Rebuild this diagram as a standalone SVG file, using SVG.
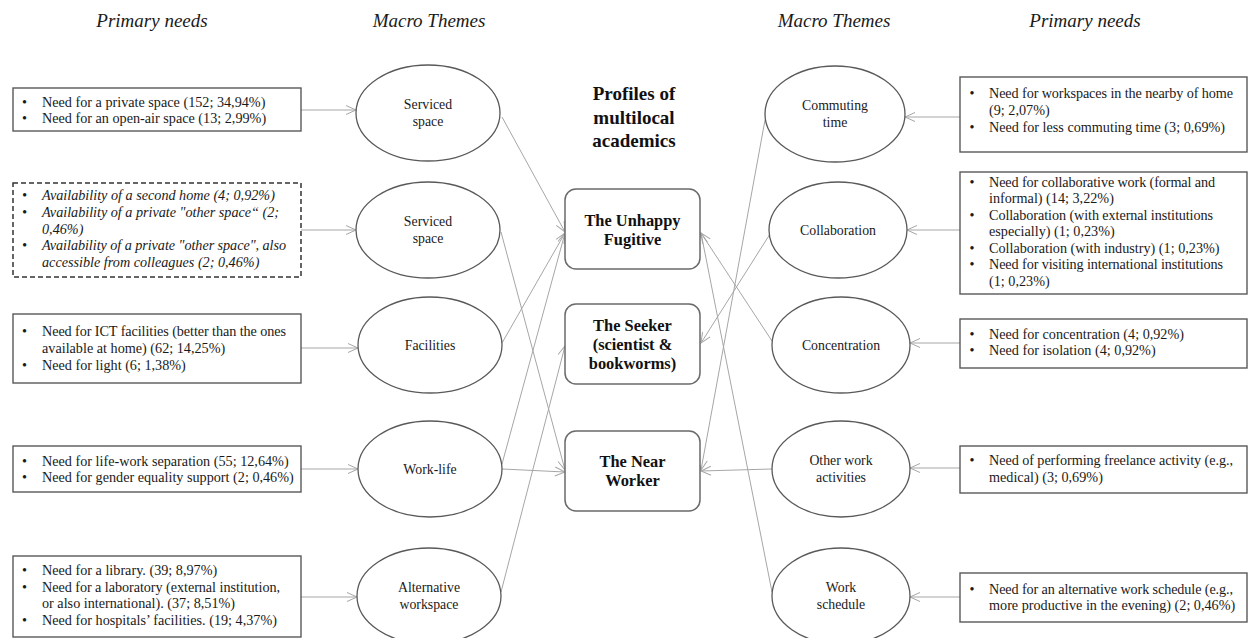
<svg xmlns="http://www.w3.org/2000/svg" width="1248" height="638" viewBox="0 0 1248 638">
<defs>
<marker id="arr" markerUnits="userSpaceOnUse" markerWidth="14" markerHeight="12" viewBox="-1 -6 13 12" refX="10" refY="0" orient="auto">
<path d="M0,-4.5 L10,0 L0,4.5" fill="none" stroke="#a6a6a6" stroke-width="1"/>
</marker>
<style>
.hdr{font-family:"Liberation Serif","Times New Roman",serif;font-style:italic;font-size:19px;fill:#1a1a1a;text-anchor:middle}
.tt{font-family:"Liberation Serif","Times New Roman",serif;font-weight:bold;font-size:19px;fill:#111;text-anchor:middle}
.box{fill:#fff;stroke:#595959;stroke-width:1.4}
.dbox{fill:#fff;stroke:#333;stroke-width:1.5;stroke-dasharray:5,3}
.ell{fill:#fff;stroke:#595959;stroke-width:1.3}
.prof{fill:#fff;stroke:#6a6a6a;stroke-width:1.5}
.t{font-family:"Liberation Serif","Times New Roman",serif;font-size:14.2px;fill:#1a1a1a}
.ti{font-family:"Liberation Serif","Times New Roman",serif;font-size:14.2px;font-style:italic;fill:#1a1a1a}
.et{font-family:"Liberation Serif","Times New Roman",serif;font-size:13.8px;fill:#1a1a1a;text-anchor:middle}
.pt{font-family:"Liberation Serif","Times New Roman",serif;font-size:16.4px;font-weight:bold;fill:#111;text-anchor:middle}
.c{fill:none;stroke:#a6a6a6;stroke-width:1;marker-end:url(#arr)}
</style>
</defs>
<rect width="1248" height="638" fill="#fff"/>

<g id="headers">
<text class="hdr" x="152" y="27">Primary needs</text>
<text class="hdr" x="429" y="27">Macro Themes</text>
<text class="hdr" x="834" y="27">Macro Themes</text>
<text class="hdr" x="1085" y="27">Primary needs</text>
</g>

<g id="title">
<text class="tt" x="634" y="99.5">Profiles of</text>
<text class="tt" x="634" y="123.5">multilocal</text>
<text class="tt" x="634" y="146.5">academics</text>
</g>

<g id="connectors">
<path class="c" d="M301,110 L356,110"/>
<path class="c" d="M301,230 L356,230"/>
<path class="c" d="M301,348 L358,348"/>
<path class="c" d="M301,469 L358,469"/>
<path class="c" d="M301,597 L357,597"/>
<path class="c" d="M960,117 L905,117"/>
<path class="c" d="M960,230 L907,230"/>
<path class="c" d="M960,343 L910,343"/>
<path class="c" d="M960,468 L910,468"/>
<path class="c" d="M960,597 L910,597"/>
<path class="c" d="M502,117 L565,232"/>
<path class="c" d="M501,232 L565,470"/>
<path class="c" d="M502,343 L565,233"/>
<path class="c" d="M502,464 L565,233"/>
<path class="c" d="M502,469 L565,472"/>
<path class="c" d="M501,592 L565,346"/>
<path class="c" d="M765,120 L701,470"/>
<path class="c" d="M770,234 L701,343"/>
<path class="c" d="M772,341 L701,233"/>
<path class="c" d="M772,469 L701,471"/>
<path class="c" d="M772,592 L701,233"/>
</g>

<g id="need-private-space">
<rect class="box" x="13" y="88" width="288" height="43"/>
<text class="t" x="22" y="106.5">•</text><text class="t" x="42" y="106.5">Need for a private space (152; 34,94%)</text>
<text class="t" x="22" y="123">•</text><text class="t" x="42" y="123">Need for an open-air space (13; 2,99%)</text>
</g>

<g id="need-availability">
<rect class="dbox" x="13" y="183" width="288" height="94"/>
<text class="ti" x="22" y="200">•</text><text class="ti" x="42" y="200">Availability of a second home (4;  0,92%)</text>
<text class="ti" x="22" y="217">•</text><text class="ti" x="42" y="217" textLength="237" lengthAdjust="spacing">Availability of a private "other space“ (2;</text>
<text class="ti" x="42" y="233.5">0,46%)</text>
<text class="ti" x="22" y="250">•</text><text class="ti" x="42" y="250" textLength="244" lengthAdjust="spacing">Availability of a private "other space", also</text>
<text class="ti" x="42" y="267">accessible from colleagues (2;  0,46%)</text>
</g>

<g id="need-ict">
<rect class="box" x="13" y="314" width="288" height="69"/>
<text class="t" x="22" y="336">•</text><text class="t" x="42" y="336" textLength="244" lengthAdjust="spacing">Need for ICT facilities (better than the ones</text>
<text class="t" x="42" y="353">available at home) (62; 14,25%)</text>
<text class="t" x="22" y="370">•</text><text class="t" x="42" y="370">Need for light (6; 1,38%)</text>
</g>

<g id="need-life-work">
<rect class="box" x="13" y="446" width="288" height="46"/>
<text class="t" x="22" y="466">•</text><text class="t" x="42" y="466">Need for life-work separation (55; 12,64%)</text>
<text class="t" x="22" y="482">•</text><text class="t" x="42" y="482">Need for gender equality support (2; 0,46%)</text>
</g>

<g id="need-library">
<rect class="box" x="13" y="556" width="288" height="81"/>
<text class="t" x="22" y="575">•</text><text class="t" x="42" y="575">Need for a library. (39; 8,97%)</text>
<text class="t" x="22" y="591.5">•</text><text class="t" x="42" y="591.5" textLength="238" lengthAdjust="spacing">Need for a laboratory (external institution,</text>
<text class="t" x="42" y="608">or also international). (37; 8,51%)</text>
<text class="t" x="22" y="624.5">•</text><text class="t" x="42" y="624.5">Need for hospitals’ facilities. (19; 4,37%)</text>
</g>

<g id="theme-serviced-1">
<ellipse class="ell" cx="428" cy="113" rx="72" ry="48"/>
<text class="et" x="428" y="109.3">Serviced</text>
<text class="et" x="428" y="125.8">space</text>
</g>
<g id="theme-serviced-2">
<ellipse class="ell" cx="428" cy="230" rx="72" ry="48"/>
<text class="et" x="428" y="226.3">Serviced</text>
<text class="et" x="428" y="242.8">space</text>
</g>
<g id="theme-facilities">
<ellipse class="ell" cx="430" cy="345" rx="72" ry="48"/>
<text class="et" x="430" y="349.5">Facilities</text>
</g>
<g id="theme-work-life">
<ellipse class="ell" cx="430" cy="469" rx="72" ry="48"/>
<text class="et" x="430" y="473.5">Work-life</text>
</g>
<g id="theme-alt-workspace">
<ellipse class="ell" cx="429" cy="596" rx="72" ry="48"/>
<text class="et" x="429" y="592.3">Alternative</text>
<text class="et" x="429" y="608.8">workspace</text>
</g>

<g id="profile-unhappy-fugitive">
<rect class="prof" x="565" y="189" width="135" height="80" rx="11"/>
<text class="pt" x="632.5" y="225.5">The Unhappy</text>
<text class="pt" x="632.5" y="244.5">Fugitive</text>
</g>
<g id="profile-seeker">
<rect class="prof" x="565" y="304" width="135" height="80" rx="11"/>
<text class="pt" x="632.5" y="330.5">The Seeker</text>
<text class="pt" x="632.5" y="349.5">(scientist &amp;</text>
<text class="pt" x="632.5" y="368.5">bookworms)</text>
</g>
<g id="profile-near-worker">
<rect class="prof" x="565" y="431" width="135" height="80" rx="11"/>
<text class="pt" x="632.5" y="467">The Near</text>
<text class="pt" x="632.5" y="486">Worker</text>
</g>

<g id="theme-commuting">
<ellipse class="ell" cx="835" cy="114" rx="70" ry="48"/>
<text class="et" x="835" y="110.3">Commuting</text>
<text class="et" x="835" y="126.8">time</text>
</g>
<g id="theme-collaboration">
<ellipse class="ell" cx="838" cy="230" rx="69" ry="48"/>
<text class="et" x="838" y="234.5">Collaboration</text>
</g>
<g id="theme-concentration">
<ellipse class="ell" cx="841" cy="345" rx="69" ry="48"/>
<text class="et" x="841" y="349.5">Concentration</text>
</g>
<g id="theme-other-work">
<ellipse class="ell" cx="841" cy="469" rx="69" ry="48"/>
<text class="et" x="841" y="465.3">Other work</text>
<text class="et" x="841" y="481.8">activities</text>
</g>
<g id="theme-work-schedule">
<ellipse class="ell" cx="841" cy="596" rx="69" ry="48"/>
<text class="et" x="841" y="592.3">Work</text>
<text class="et" x="841" y="608.8">schedule</text>
</g>

<g id="need-workspaces-nearby">
<rect class="box" x="960" y="77" width="287" height="75"/>
<text class="t" x="969.5" y="98">•</text><text class="t" x="989" y="98" textLength="244" lengthAdjust="spacing">Need for workspaces in the nearby of home</text>
<text class="t" x="989" y="115">(9; 2,07%)</text>
<text class="t" x="969.5" y="132">•</text><text class="t" x="989" y="132">Need for less commuting time (3; 0,69%)</text>
</g>

<g id="need-collaborative">
<rect class="box" x="960" y="172" width="287" height="122"/>
<text class="t" x="969.5" y="186.5">•</text><text class="t" x="989" y="186.5" textLength="226" lengthAdjust="spacing">Need for collaborative work (formal and</text>
<text class="t" x="989" y="203">informal) (14; 3,22%)</text>
<text class="t" x="969.5" y="219.5">•</text><text class="t" x="989" y="219.5" textLength="224" lengthAdjust="spacing">Collaboration (with external institutions</text>
<text class="t" x="989" y="236">especially)  (1; 0,23%)</text>
<text class="t" x="969.5" y="252.5">•</text><text class="t" x="989" y="252.5">Collaboration (with industry) (1; 0,23%)</text>
<text class="t" x="969.5" y="269">•</text><text class="t" x="989" y="269" textLength="234" lengthAdjust="spacing">Need for visiting international institutions</text>
<text class="t" x="989" y="285.5">(1; 0,23%)</text>
</g>

<g id="need-concentration">
<rect class="box" x="960" y="319" width="287" height="49"/>
<text class="t" x="969.5" y="339">•</text><text class="t" x="989" y="339">Need for concentration (4; 0,92%)</text>
<text class="t" x="969.5" y="355">•</text><text class="t" x="989" y="355">Need for isolation (4; 0,92%)</text>
</g>

<g id="need-freelance">
<rect class="box" x="960" y="446" width="287" height="47"/>
<text class="t" x="969.5" y="465">•</text><text class="t" x="989" y="465" textLength="244" lengthAdjust="spacing">Need of performing freelance activity (e.g.,</text>
<text class="t" x="989" y="482">medical) (3; 0,69%)</text>
</g>

<g id="need-alt-schedule">
<rect class="box" x="960" y="573" width="287" height="49"/>
<text class="t" x="969.5" y="594">•</text><text class="t" x="989" y="594" textLength="244" lengthAdjust="spacing">Need for an alternative work schedule (e.g.,</text>
<text class="t" x="989" y="610">more productive in the evening) (2; 0,46%)</text>
</g>
</svg>
